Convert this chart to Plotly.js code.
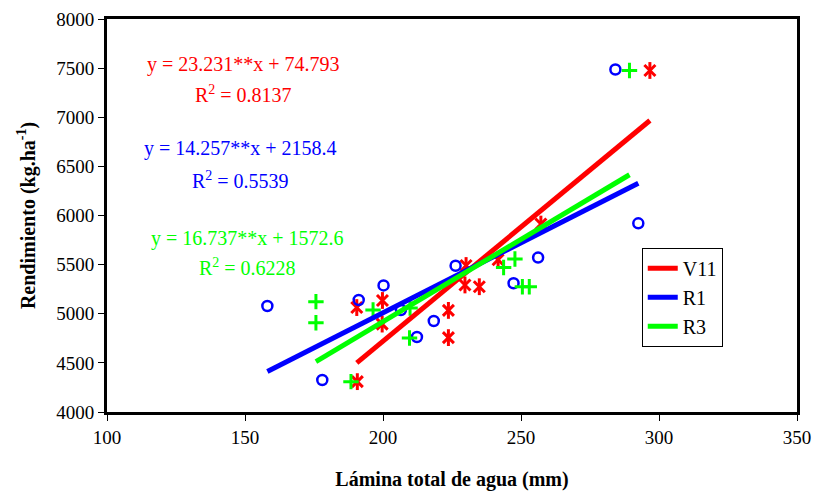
<!DOCTYPE html>
<html>
<head>
<meta charset="utf-8">
<script src="https://cdn.plot.ly/plotly-3.0.1.min.js"></script>
<style>body{margin:0;background:#fff;} #chart{width:817px;height:492px;}</style>
</head>
<body>
<div id="chart"></div>
<script>
// Data
const seriesNames = ["V11", "R1", "R3"];
const seriesColors = ["#FF0000", "#0000FF", "#00FF00"];

const xV11 = [190.7, 190.5, 199.8, 199.7, 223.7, 223.7, 230.1, 229.7, 234.9, 241.7, 257.2, 296.7];
const yV11 = [4309, 5063, 5135, 4895, 5034, 4757, 5491, 5293, 5275, 5550, 5913, 7476];

const xR1 = [158.1, 178.0, 191.2, 200.2, 206.5, 212.3, 218.4, 226.3, 247.3, 256.2, 292.5, 284.2];
const yR1 = [5079, 4326, 5140, 5288, 5038, 4763, 4926, 5489, 5310, 5572, 5920, 7486];

const xR3 = [175.7, 175.7, 188.4, 196.4, 209.8, 209.6, 243.7, 247.8, 250.5, 253.0, 289.3];
const yR3 = [5123, 4909, 4309, 5038, 5059, 4753, 5471, 5557, 5275, 5275, 7476];

const slopes = [23.231, 14.257, 16.737];
const intercepts = [74.793, 2158.4, 1572.6];
const eqTexts = ["y = 23.231**x + 74.793", "y = 14.257**x + 2158.4", "y = 16.737**x + 1572.6"];
const r2Texts = ["R<sup>2</sup> = 0.8137", "R<sup>2</sup> = 0.5539", "R<sup>2</sup> = 0.6228"];

const xTickVals = [100, 150, 200, 250, 300, 350];
const yTickVals = [4000, 4500, 5000, 5500, 6000, 6500, 7000, 7500, 8000];

const FONT = "'Liberation Serif', 'Times New Roman', serif";
const xs = [xV11, xR1, xR3];
const ys = [yV11, yR1, yR3];

const traces = [];
// V11 markers: x + vertical bar (asterisk look)
traces.push({x: xV11, y: yV11, mode: 'markers', type: 'scatter', showlegend: false, hoverinfo: 'skip',
  marker: {symbol: 'x-thin-open', size: 11, color: seriesColors[0], line: {color: seriesColors[0], width: 3}}});
traces.push({x: xV11, y: yV11, mode: 'markers', type: 'scatter', showlegend: false, hoverinfo: 'skip',
  marker: {symbol: 'line-ns-open', size: 12, color: seriesColors[0], line: {color: seriesColors[0], width: 3}}});
// R1 markers: open circles
traces.push({x: xR1, y: yR1, mode: 'markers', type: 'scatter', showlegend: false, hoverinfo: 'skip',
  marker: {symbol: 'circle-open', size: 10, color: seriesColors[1], line: {color: seriesColors[1], width: 2.5}}});
// R3 markers: plus
traces.push({x: xR3, y: yR3, mode: 'markers', type: 'scatter', showlegend: false, hoverinfo: 'skip',
  marker: {symbol: 'cross-thin-open', size: 11, color: seriesColors[2], line: {color: seriesColors[2], width: 3}}});

// Regression lines over each series' x range
for (let i = 0; i < 3; i++) {
  const x0 = Math.min(...xs[i]), x1 = Math.max(...xs[i]);
  traces.push({
    x: [x0, x1], y: [slopes[i] * x0 + intercepts[i], slopes[i] * x1 + intercepts[i]],
    mode: 'lines', type: 'scatter', name: seriesNames[i],
    line: {color: seriesColors[i], width: 5}, hoverinfo: 'skip'
  });
}

const annPos = [[149.3, 7542, 7237], [148.2, 6677, 6361], [150.8, 5771, 5476]];
const annotations = [];
for (let i = 0; i < 3; i++) {
  annotations.push({x: annPos[i][0], y: annPos[i][1], xref: 'x', yref: 'y', text: eqTexts[i], showarrow: false,
    font: {family: FONT, size: 20, color: seriesColors[i]}});
  annotations.push({x: annPos[i][0], y: annPos[i][2], xref: 'x', yref: 'y', text: r2Texts[i], showarrow: false,
    font: {family: FONT, size: 20, color: seriesColors[i]}});
}

const layout = {
  width: 817, height: 492,
  margin: {l: 107, r: 20, t: 19, b: 80},
  paper_bgcolor: '#fff', plot_bgcolor: '#fff',
  font: {family: FONT, color: '#000', size: 19},
  xaxis: {
    range: [100, 350], tickvals: xTickVals, ticks: 'outside', ticklen: 6, tickwidth: 1, tickcolor: '#000',
    showline: true, linecolor: '#000', linewidth: 3, mirror: true, showgrid: false, zeroline: false,
    tickfont: {family: FONT, size: 19, color: '#000'},
    title: {text: '<b>Lámina total de agua (mm)</b>', font: {family: FONT, size: 20, color: '#000'}, standoff: 26}
  },
  yaxis: {
    range: [4000, 8000], tickvals: yTickVals, ticks: 'outside', ticklen: 6, tickwidth: 1, tickcolor: '#000',
    showline: true, linecolor: '#000', linewidth: 3, mirror: true, showgrid: false, zeroline: false,
    tickfont: {family: FONT, size: 19, color: '#000'},
    title: {text: '<b>Rendimiento (kg.ha<sup>-1</sup>)</b>', font: {family: FONT, size: 20, color: '#000'}, standoff: 16}
  },
  showlegend: true,
  legend: {
    x: 0.775, y: 0.418, xanchor: 'left', yanchor: 'top',
    bgcolor: '#fff', bordercolor: '#000', borderwidth: 1,
    font: {family: FONT, size: 20, color: '#000'}, tracegroupgap: 0
  },
  annotations: annotations
};

Plotly.newPlot('chart', traces, layout, {staticPlot: true, displayModeBar: false});
</script>
</body>
</html>
